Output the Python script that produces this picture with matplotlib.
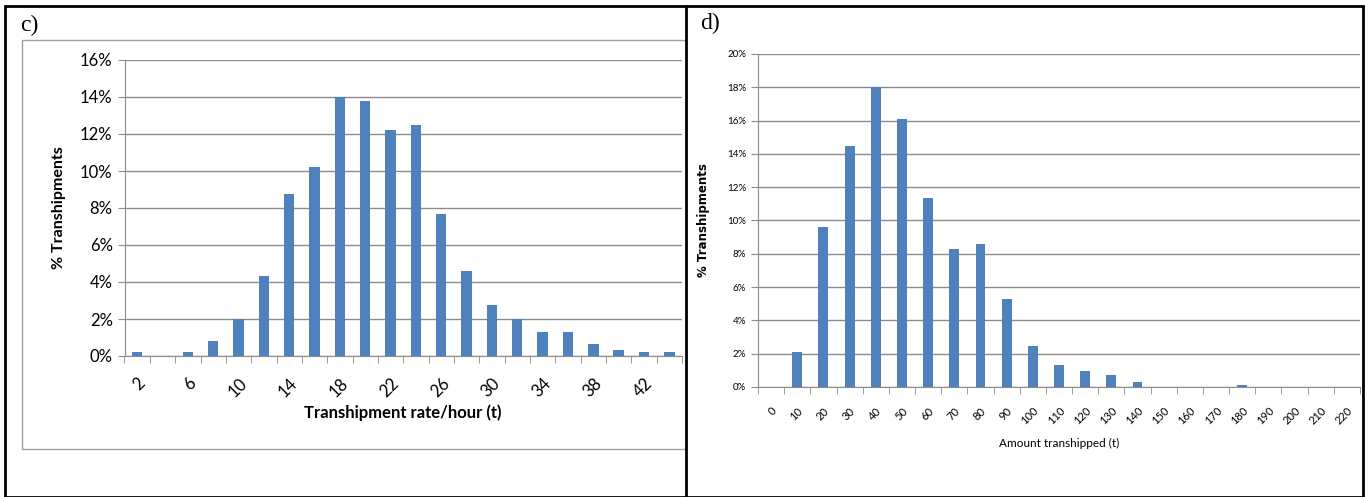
import numpy as np
import matplotlib.pyplot as plt
from matplotlib.lines import Line2D
from matplotlib.patches import Rectangle

# ---- data ----
rate_cats = [2, 4, 6, 8, 10, 12, 14, 16, 18, 20, 22, 24, 26, 28, 30, 32,
             34, 36, 38, 40, 42, 44]
rate_pct = [0.2, 0.0, 0.2, 0.8, 2.0, 4.35, 8.75, 10.2, 14.0, 13.8, 12.2,
            12.5, 7.65, 4.6, 2.75, 2.0, 1.3, 1.3, 0.65, 0.35, 0.2, 0.2]

amount_cats = [0, 10, 20, 30, 40, 50, 60, 70, 80, 90, 100, 110, 120, 130,
               140, 150, 160, 170, 180, 190, 200, 210, 220]
amount_pct = [0.0, 2.1, 9.6, 14.5, 18.0, 16.1, 11.35, 8.3, 8.6, 5.3, 2.45,
              1.3, 0.95, 0.75, 0.3, 0.0, 0.0, 0.0, 0.15, 0.0, 0.0, 0.0, 0.0]

BAR = "#4F81BD"
GRID = "#8C8C8C"
W, H = 1365, 497


def px_axes(fig, x0, y0, x1, y1):
    """axes from pixel box (top-left origin)"""
    return fig.add_axes([x0 / W, (H - y1) / H, (x1 - x0) / W, (y1 - y0) / H])


def style(ax, n, ymax, ystep):
    ax.set_xlim(-0.5, n - 0.5)
    ax.set_ylim(0, ymax)
    ax.set_yticks(np.arange(0, ymax + 0.01, ystep))
    ax.yaxis.grid(True, color=GRID, lw=1.0)
    ax.set_axisbelow(True)
    for s in ["top", "right"]:
        ax.spines[s].set_visible(False)
    for s in ["left", "bottom"]:
        ax.spines[s].set_color(GRID)
    ax.set_xticks(np.arange(n + 1) - 0.5, minor=True)
    ax.tick_params(axis="x", which="minor", length=5, color=GRID)
    ax.tick_params(axis="x", which="major", length=0)
    ax.tick_params(axis="y", length=5, color=GRID)


fig = plt.figure(figsize=(W / 100, H / 100), dpi=100)

# ---- frame lines ----
fig.add_artist(Rectangle((5 / W, 0), (1363 - 5) / W, (H - 6) / H,
                         transform=fig.transFigure, fill=False,
                         ec="black", lw=2))
fig.add_artist(Line2D([686 / W, 686 / W], [0, (H - 6) / H],
                      transform=fig.transFigure, color="black", lw=2))
fig.add_artist(Rectangle((22 / W, (H - 449) / H), (686 - 22) / W,
                         (449 - 40) / H, transform=fig.transFigure,
                         fill=False, ec="#A0A0A0", lw=1))
fig.text(20 / W, 1 - 25 / H, "c)", family="Liberation Serif", fontsize=17,
         va="center", ha="left")
fig.text(700 / W, 1 - 23 / H, "d)", family="Liberation Serif", fontsize=17,
         va="center", ha="left")

# ---- c) transhipment rate ----
ax1 = px_axes(fig, 124.5, 60, 682, 356)
x1 = np.arange(len(rate_cats))
ax1.bar(x1, rate_pct, width=0.41, color=BAR, zorder=3)
style(ax1, len(rate_cats), 16, 2)
ax1.set_yticklabels([f"{v}%" for v in range(0, 17, 2)], family="Lato",
                    fontsize=12)
ax1.set_xticks(x1[::2])
ax1.set_xticklabels([str(c) for c in rate_cats[::2]], family="Lato",
                    fontsize=12, rotation=45, ha="right",
                    rotation_mode="anchor")
ax1.tick_params(axis="x", which="major", pad=14)
ax1.set_xlabel("Transhipment rate/hour (t)", family="Lato",
               fontweight="bold", fontsize=12, labelpad=3)
ax1.set_ylabel("% Transhipments", family="Lato", fontweight="bold",
               fontsize=11.5, labelpad=10)

# ---- d) amount transhipped ----
ax2 = px_axes(fig, 758, 54, 1360, 387)
x2 = np.arange(len(amount_cats))
ax2.bar(x2, amount_pct, width=0.38, color=BAR, zorder=3)
style(ax2, len(amount_cats), 20, 2)
narrow = ["Liberation Sans Narrow", "Lato"]
ax2.set_yticklabels([f"{v}%" for v in range(0, 21, 2)], family=narrow,
                    fontsize=7)
ax2.set_xticks(x2)
ax2.set_xticklabels([str(c) for c in amount_cats], family=narrow,
                    fontsize=8, rotation=45, ha="right",
                    rotation_mode="anchor")
ax2.tick_params(axis="x", which="major", pad=13)
ax2.set_xlabel("Amount transhipped (t)", family=narrow, fontsize=8.5,
               labelpad=8)
ax2.set_ylabel("% Transhipments", family="DejaVu Sans", fontweight="bold",
               fontsize=8.5, labelpad=12)

fig.savefig("out.png", dpi=100)
